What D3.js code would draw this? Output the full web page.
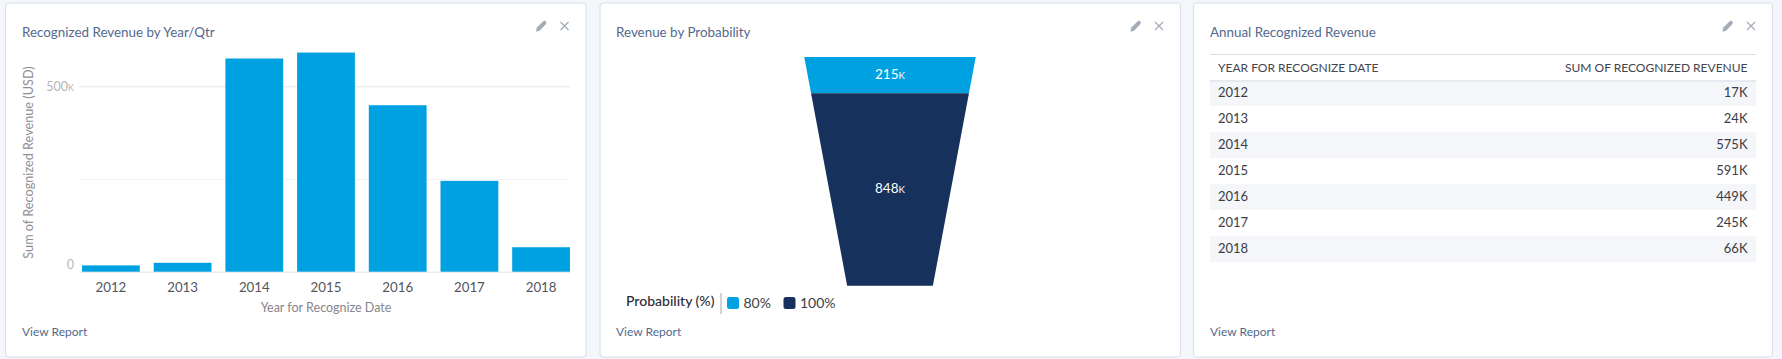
<!DOCTYPE html>
<html>
<head>
<meta charset="utf-8">
<script src="https://cdnjs.cloudflare.com/ajax/libs/d3/7.8.5/d3.min.js"></script>
<style>
  html, body { margin: 0; padding: 0; background: #f3f6fb; overflow: hidden; }
  svg { display: block; font-family: Lato, sans-serif; }
</style>
</head>
<body>
<svg id="chart" width="1782" height="359"></svg>
<script>
// Data
const years = ["2012", "2013", "2014", "2015", "2016", "2017", "2018"];
const revenue = [17, 24, 575, 591, 449, 245, 66];
const revenueLabels = ["17K", "24K", "575K", "591K", "449K", "245K", "66K"];
const yTicks = [0, 250, 500];
const probabilities = ["80%", "100%"];
const probabilityRevenue = [215, 848];
const panelTitles = ["Recognized Revenue by Year/Qtr", "Revenue by Probability", "Annual Recognized Revenue"];
const tableHeaders = ["YEAR FOR RECOGNIZE DATE", "SUM OF RECOGNIZED REVENUE"];

const titleColor = "#54698d";
const linkColor = "#54698d";
const blue = "#00a1e0";
const navy = "#16325c";

const svg = d3.select("#chart");

// Number with the small capital K the charts use
function kLabel(sel, v) {
  sel.text(null);
  sel.append("tspan").text(v);
  sel.append("tspan").attr("font-size", "0.72em").text("K");
}

// Panels
const panels = [
  { x: 5.5, w: 580.5, tx: 22 },
  { x: 600, w: 580.5, tx: 616 },
  { x: 1193.5, w: 579, tx: 1210 }
];

panels.forEach((p, i) => {
  svg.append("rect")
    .attr("x", p.x).attr("y", 3).attr("width", p.w).attr("height", 354).attr("rx", 3)
    .attr("fill", "#fff").attr("stroke", "#d8dde6");
  svg.append("text")
    .attr("x", p.tx).attr("y", 37)
    .attr("font-size", 13.4).attr("fill", titleColor)
    .text(panelTitles[i]);
  svg.append("text")
    .attr("x", p.tx).attr("y", 336)
    .attr("font-size", 12).attr("fill", linkColor)
    .text("View Report");

  // pencil and close icons
  const right = p.x + p.w;
  const icons = svg.append("g").attr("transform", `translate(${right - 50},26)`);
  icons.append("path")
    .attr("d", "M0,5.7 L0.7,1.8 L7.2,-4.8 L8.8,-5.4 L10.5,-3.6 L10,-2 L3.6,4.8 Z")
    .attr("fill", "#a3acb9");
  icons.append("path")
    .attr("d", "M24.5,-4 L32.5,4 M32.5,-4 L24.5,4")
    .attr("stroke", "#a3acb9").attr("stroke-width", 1.2).attr("fill", "none");
});

// Bar chart
const x = d3.scaleBand().domain(years).range([82, 570]).paddingInner(0.194).paddingOuter(0);
const y = d3.scaleLinear().domain([0, 500]).range([271.7, 86.3]);

const yAxis = svg.append("g")
  .attr("transform", "translate(80,0)")
  .call(d3.axisLeft(y).tickValues(yTicks).tickSize(0).tickPadding(6).tickFormat(d => d === 250 ? "" : d))
  .call(g => g.select(".domain").remove());

yAxis.selectAll("line")
  .attr("x1", -1).attr("x2", 490)
  .attr("stroke", d => d === 500 ? "#e2e5ec" : (d === 250 ? "#f2f3f6" : "#dfe2e8"));
yAxis.selectAll("text")
  .attr("font-family", "Lato, sans-serif")
  .attr("font-size", 12.5).attr("fill", "#b5b5b5")
  .attr("dy", d => d === 0 ? "-0.25em" : "0.32em")
  .filter(d => d === 500)
  .each(function (d) { kLabel(d3.select(this), d); });

svg.append("g")
  .selectAll("rect")
  .data(revenue)
  .enter().append("rect")
  .attr("x", (d, i) => x(years[i]))
  .attr("y", d => y(d))
  .attr("width", x.bandwidth())
  .attr("height", d => y(0) - y(d))
  .attr("fill", blue);

const xAxis = svg.append("g")
  .attr("transform", "translate(0,271.7)")
  .call(d3.axisBottom(x).tickSize(0).tickPadding(11))
  .call(g => g.select(".domain").remove());
xAxis.selectAll("text")
  .attr("font-family", "Lato, sans-serif")
  .attr("font-size", 13.3).attr("fill", "#54545c");

svg.append("text")
  .attr("x", 326).attr("y", 311.5)
  .attr("text-anchor", "middle")
  .attr("font-size", 12.5).attr("fill", "#85858d")
  .text("Year for Recognize Date");

svg.append("text")
  .attr("transform", "translate(32.5,162.5) rotate(-90)")
  .attr("text-anchor", "middle")
  .attr("font-size", 12.7).attr("fill", "#8f8f96")
  .text("Sum of Recognized Revenue (USD)");

// Funnel
const cumulative = d3.cumsum(probabilityRevenue);
const funnelY = d3.scalePow().exponent(1.152).domain([0, cumulative[1]]).range([57, 285.7]);
const funnelHalf = d3.scaleLinear().domain([57, 285.7]).range([85.75, 42.85]);
const funnelCx = 890;
const funnelColor = d3.scaleOrdinal().domain(probabilities).range([blue, navy]);

probabilityRevenue.forEach((v, i) => {
  const y0 = funnelY(i === 0 ? 0 : cumulative[i - 1]);
  const y1 = funnelY(cumulative[i]);
  svg.append("path")
    .attr("d", d3.line()([
      [funnelCx - funnelHalf(y0), y0],
      [funnelCx + funnelHalf(y0), y0],
      [funnelCx + funnelHalf(y1), y1],
      [funnelCx - funnelHalf(y1), y1]
    ]) + "Z")
    .attr("fill", funnelColor(probabilities[i]));
  svg.append("text")
    .attr("x", funnelCx).attr("y", (y0 + y1) / 2 - 1)
    .attr("dy", "0.35em")
    .attr("text-anchor", "middle")
    .attr("font-size", 13.5).attr("fill", "#fff")
    .call(kLabel, v);
});

// Funnel legend
svg.append("text")
  .attr("x", 626).attr("y", 306)
  .attr("font-size", 14).attr("font-weight", 500).attr("fill", "#2b2b33")
  .text("Probability (%)");
svg.append("line")
  .attr("x1", 721).attr("x2", 721).attr("y1", 293).attr("y2", 314)
  .attr("stroke", "#c4c4c4").attr("stroke-width", 1.5);

const legendX = d3.scaleOrdinal().domain(probabilities).range([727, 783.5]);
const legend = svg.append("g")
  .selectAll("g")
  .data(probabilities)
  .enter().append("g")
  .attr("transform", d => `translate(${legendX(d)},297)`);
legend.append("rect")
  .attr("width", 12).attr("height", 12).attr("rx", 2.5)
  .attr("fill", d => funnelColor(d));
legend.append("text")
  .attr("x", 16.5).attr("y", 6)
  .attr("dy", "0.36em")
  .attr("font-size", 14).attr("fill", "#3e3e45")
  .text(d => d);

// Table
const tableLeft = 1210;
const tableRight = 1756;
const rowY = d3.scaleBand().domain(years).range([80, 262]);

svg.append("line")
  .attr("x1", tableLeft).attr("x2", tableRight).attr("y1", 54.5).attr("y2", 54.5)
  .attr("stroke", "#d8dde6");

svg.append("g")
  .selectAll("rect")
  .data(years.filter((d, i) => i % 2 === 0))
  .enter().append("rect")
  .attr("x", tableLeft)
  .attr("y", d => rowY(d))
  .attr("width", tableRight - tableLeft)
  .attr("height", rowY.bandwidth())
  .attr("fill", "#f4f6f9");

svg.append("line")
  .attr("x1", tableLeft).attr("x2", tableRight).attr("y1", 81).attr("y2", 81)
  .attr("stroke", "#d8dde6");

[[0, tableLeft + 8, "start"], [1, tableRight - 8.5, "end"]].forEach(([i, tx, anchor]) => {
  svg.append("text")
    .attr("x", tx).attr("y", 67.5)
    .attr("dy", "0.35em")
    .attr("text-anchor", anchor)
    .attr("font-size", 12).attr("fill", "#44444c")
    .text(tableHeaders[i]);
});

const rows = svg.append("g")
  .selectAll("g")
  .data(years)
  .enter().append("g")
  .attr("transform", d => `translate(0,${rowY(d) + rowY.bandwidth() / 2 - 0.5})`);
rows.append("text")
  .attr("x", tableLeft + 8)
  .attr("dy", "0.35em")
  .attr("font-size", 13).attr("fill", "#3c3c46")
  .text(d => d);
rows.append("text")
  .attr("x", tableRight - 8.5)
  .attr("dy", "0.35em")
  .attr("text-anchor", "end")
  .attr("font-size", 13).attr("fill", "#3c3c46")
  .text((d, i) => revenueLabels[i]);
</script>
</body>
</html>
